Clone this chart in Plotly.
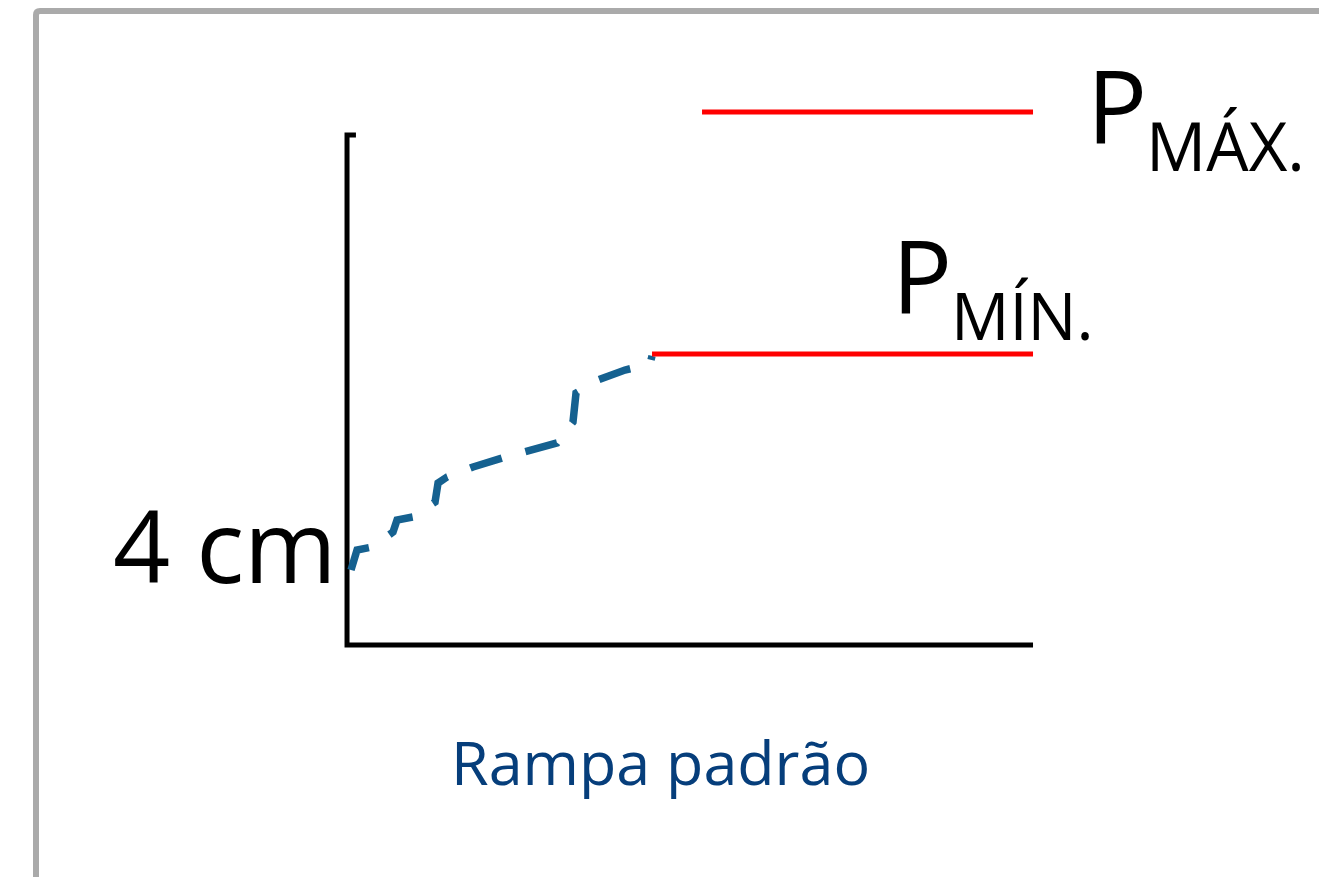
import plotly.graph_objects as go

# ---- data (chart units: axis spans 0..100 on both x and y) ----
ramp_x = [0.58, 1.46, 3.64, 6.71, 7.29, 9.62, 12.83, 13.27, 14.58, 18.37,
          22.59, 26.24, 30.61, 32.94, 33.38, 36.59, 40.52, 44.17, 44.46]
ramp_y = [14.71, 18.63, 19.22, 22.16, 24.51, 25.10, 28.04, 31.76, 32.94, 34.90,
          36.67, 37.84, 39.61, 43.73, 49.41, 51.96, 53.92, 55.10, 56.67]
pmin_x = [44.46, 100.0]
pmin_level = 57.06
pmax_x = [51.75, 100.0]
pmax_level = 104.5
axis_x = [1.3, 0.0, 0.0, 100.0]
axis_y = [100.0, 100.0, 0.0, 0.0]

label_4cm = "4 cm"
label_p = "P"
label_max = "MÁX."
label_min = "MÍN."
label_title = "Rampa padrão"

FONT = "Open Sans, Liberation Sans, sans-serif"

fig = go.Figure()

fig.add_trace(go.Scatter(x=axis_x, y=axis_y, mode="lines",
                         line=dict(color="black", width=5), hoverinfo="skip"))
fig.add_trace(go.Scatter(x=ramp_x, y=ramp_y, mode="lines",
                         line=dict(color="#156190", width=7.5, dash="33px,24.5px"),
                         hoverinfo="skip"))
fig.add_trace(go.Scatter(x=pmin_x, y=[pmin_level] * 2, mode="lines",
                         line=dict(color="#ff0000", width=5), hoverinfo="skip"))
fig.add_trace(go.Scatter(x=pmax_x, y=[pmax_level] * 2, mode="lines",
                         line=dict(color="#ff0000", width=5), hoverinfo="skip"))

ann = [
    dict(x=-34.4, y=19.76, text=label_4cm, size=100, color="black", xa="left"),
    dict(x=107.6, y=106.04, text=label_p, size=100, color="black", xa="left"),
    dict(x=116.2, y=98.0, text=label_max, size=67, color="black", xa="left"),
    dict(x=79.15, y=72.71, text=label_p, size=100, color="black", xa="left"),
    dict(x=87.76, y=64.67, text=label_min, size=65, color="black", xa="left"),
    dict(x=45.63, y=-22.88, text=label_title, size=61, color="#063e7b", xa="center"),
]
for a in ann:
    fig.add_annotation(x=a["x"], y=a["y"], xref="x", yref="y", text=a["text"],
                       showarrow=False, xanchor=a["xa"], yanchor="middle",
                       font=dict(family=FONT, size=a["size"], color=a["color"]))

# gray frame (top and left edges); page has an 8px body margin
W, H = 1327, 877
fx, fy = 28, 3
fig.add_shape(type="path", xref="paper", yref="paper",
              path=f"M {fx/W},-0.02 L {fx/W},{1-(fy+4)/H} Q {fx/W},{1-fy/H} {(fx+4)/W},{1-fy/H} L 1.02,{1-fy/H}",
              line=dict(color="#aaaaaa", width=6))

fig.update_layout(
    width=W, height=H,
    margin=dict(l=0, r=0, t=0, b=0),
    paper_bgcolor="white", plot_bgcolor="white",
    showlegend=False,
    xaxis=dict(range=[-49.42, 144.02], visible=False, fixedrange=True),
    yaxis=dict(range=[-47.06, 124.90], visible=False, fixedrange=True),
)

fig.write_html("out.html")
